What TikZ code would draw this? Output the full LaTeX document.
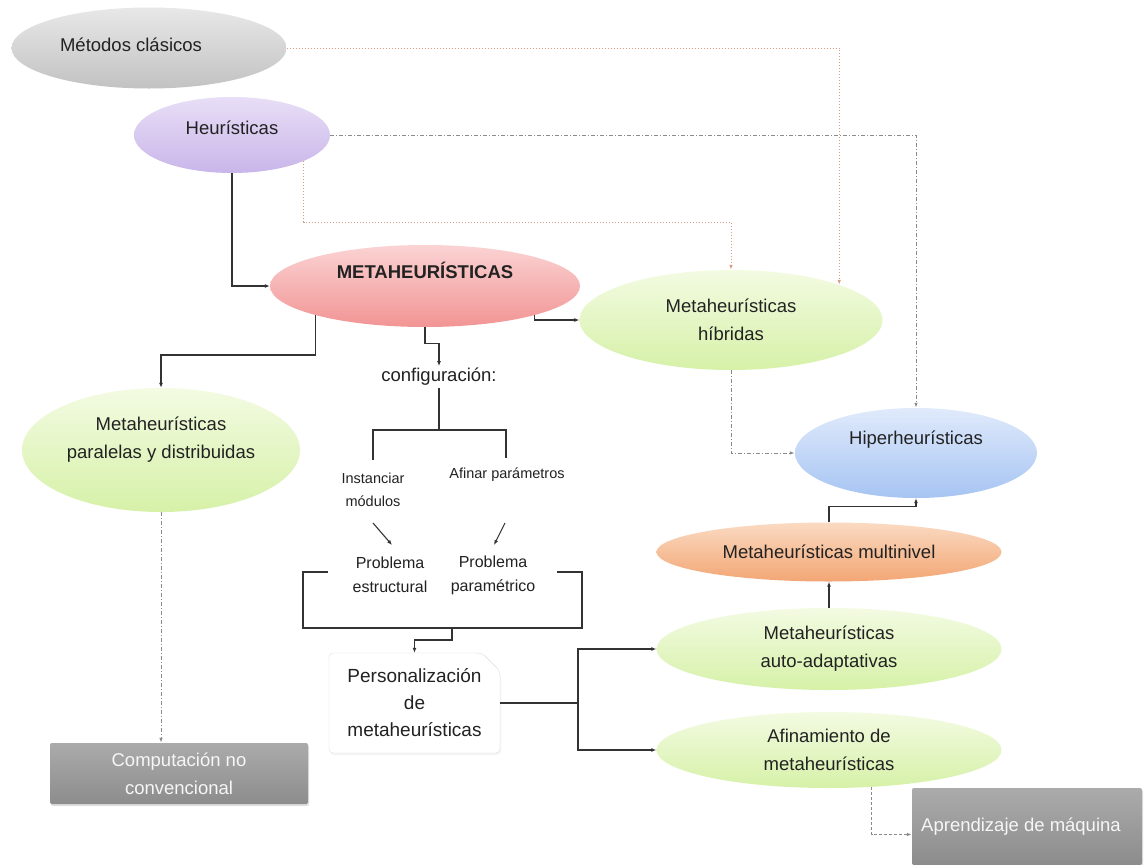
\documentclass[tikz,border=0pt]{standalone}
\usepackage{fontspec}
\setmainfont{Liberation Sans}
\usetikzlibrary{shapes.geometric,shapes.misc,arrows.meta,calc,shadows}
\definecolor{txt}{HTML}{222222}
\definecolor{lineC}{HTML}{333333}
\definecolor{orC}{HTML}{D89C84}
\definecolor{grC}{HTML}{8A8A8A}
\definecolor{metT}{HTML}{E8E8E8}
\definecolor{metB}{HTML}{C2C2C2}
\definecolor{heT}{HTML}{E8DEF6}
\definecolor{heB}{HTML}{C9B6EA}
\definecolor{meT}{HTML}{FBD3D3}
\definecolor{meB}{HTML}{F29494}
\definecolor{grT}{HTML}{F3FBE2}
\definecolor{grB}{HTML}{D6F1A8}
\definecolor{hiT}{HTML}{E0EAFB}
\definecolor{hiB}{HTML}{A6C4F3}
\definecolor{muT}{HTML}{FADAC2}
\definecolor{muB}{HTML}{F3A674}
\definecolor{bxT}{HTML}{ABABAB}
\definecolor{bxB}{HTML}{8C8C8C}
\newcommand{\fsmain}{\fontsize{18.5}{28}\selectfont}
\newcommand{\fssmall}{\fontsize{14.5}{23}\selectfont}
\newcommand{\fsprob}{\fontsize{16}{24}\selectfont}
\newcommand{\fspers}{\fontsize{19}{27}\selectfont}
\begin{document}
\begin{tikzpicture}[x=1pt,y=-1pt,
  ell/.style={ellipse, inner sep=0pt, font=\fsmain, text=txt, align=center, draw=none},
  greenell/.style={ell, top color=grT, bottom color=grB},
  lbl/.style={font=\fsmain, text=txt, align=center},
  gbox/.style={rectangle, rounded corners=2pt, top color=bxT, bottom color=bxB, text=white!93!gray,
    font=\fsmain, align=center, inner sep=0pt,
    drop shadow={opacity=0.25, shadow xshift=1pt, shadow yshift=-2pt}},
  persbox/.style={chamfered rectangle, chamfered rectangle corners=north east,
    chamfered rectangle xsep=9pt, chamfered rectangle ysep=9pt, rounded corners=4pt,
    draw=black!13, fill=white, font=\fspers, text=txt, align=center, inner sep=0pt},
  plain/.style={text=txt, inner sep=2pt, align=center},
  conn/.style={draw=lineC, line width=1.1pt},
  arr/.style={conn, -{Latex[length=5pt,width=4pt]}},
  dotO/.style={draw=orC, line width=1pt, dotted, -{Latex[length=5pt,width=3.5pt]}},
  dashdotA/.style={draw=grC, line width=1pt, dash pattern=on 4pt off 2pt on 1pt off 2pt, -{Latex[length=5pt,width=3.5pt]}},
  dashedA/.style={draw=grC, line width=1pt, dash pattern=on 3pt off 2pt, -{Latex[length=5pt,width=3.5pt]}}
]
\useasboundingbox (0,0) rectangle (1144,865);
\fill[white] (0,0) rectangle (1144,865);

% nodes
\node[ell, top color=metT, bottom color=metB, minimum width=275pt, minimum height=81pt,
  label={[lbl,xshift=-18pt,yshift=3pt]center:Métodos clásicos}] (metodos) at (149,48) {};
\node[ell, top color=heT, bottom color=heB, minimum width=196pt, minimum height=76pt,
  label={[lbl,yshift=7pt]center:Heurísticas}] (heur) at (232,135) {};
\node[ell, top color=meT, bottom color=meB, minimum width=310pt, minimum height=82pt,
  label={[lbl,yshift=16pt,font=\fsmain\bfseries]center:METAHEURÍSTICAS}] (meta) at (425,286) {};
\node[greenell, minimum width=303pt, minimum height=100pt] (hib) at (731,320) {Metaheurísticas\\híbridas};
\node[greenell, minimum width=278pt, minimum height=124pt,
  label={[lbl,yshift=10pt]center:Metaheurísticas\\paralelas y distribuidas}] (par) at (161,450) {};
\node[ell, top color=hiT, bottom color=hiB, minimum width=242pt, minimum height=90pt,
  label={[lbl,yshift=13pt]center:Hiperheurísticas}] (hip) at (916,453) {};
\node[ell, top color=muT, bottom color=muB, minimum width=345pt, minimum height=59pt] (mul) at (829,552) {Metaheurísticas multinivel};
\node[greenell, minimum width=345pt, minimum height=82pt] (auto) at (829,649) {Metaheurísticas\\auto-adaptativas};
\node[greenell, minimum width=345pt, minimum height=76pt] (afin) at (829,750) {Afinamiento de\\metaheurísticas};
\node[gbox, minimum width=258pt, minimum height=61pt] (comp) at (179,773.5) {Computación no\\convencional};
\node[gbox, minimum width=230pt, minimum height=77pt] (apr) at (1027,826.5) {\hspace*{-12pt}Aprendizaje de máquina};

\node[plain, font=\fsmain] (config) at (439,377) {configuración:};
\node[plain, font=\fssmall] (inst) at (373,489.5) {Instanciar\\módulos};
\node[plain, font=\fssmall] (afinp) at (507,475) {Afinar parámetros};
\node[plain, font=\fsprob] (pe) at (390,575) {Problema\\estructural};
\node[plain, font=\fsprob] (pp) at (493,575) {Problema\\paramétrico};
\node[persbox, minimum width=171pt, minimum height=100pt,
  drop shadow={opacity=0.08, shadow xshift=1pt, shadow yshift=-2pt}] (pers) at (414.5,703) {Personalización\\de\\metaheurísticas};

% helper coordinates
\coordinate (o1) at (500,222);
\coordinate (j1) at (200,355);
\coordinate (cj) at (439,430);
\coordinate (bl) at (373,460);
\coordinate (br) at (506,458);
\coordinate (ia) at (373,523);
\coordinate (ib) at (392,545);
\coordinate (pa) at (505,523);
\coordinate (pb) at (494,545);
\coordinate (bk) at (452,628);
\coordinate (bk0) at (427,628);
\coordinate (pj) at (578,703);

% connectors
\draw[dotO] (metodos.east) -| (hib.18);
\draw[dashdotA] (heur.east) -| (hip.north);
\draw[arr] (heur.south) |- (meta.west);
\draw[dotO] (heur.-20) |- (o1) -| (hib.north);
\draw[arr] (meta.195) |- (j1) -| (par.north);
\draw[arr] (meta.south) -- ++(0,16) -| (config.north);
\draw[arr] (meta.-15) |- (hib.west);
\draw[conn] (config.south) -- (cj);
\draw[conn] (bl) |- (cj) -| (br);
\draw[arr] (ia) -- (ib);
\draw[arr] (pa) -- (pb);
\draw[conn] (328,572) -- (303,572) -- (303,628) -- (582,628) -- (582,572) -- (557,572);
\draw[draw=lineC, line width=2.4pt] (bk0) -- (bk);
\draw[arr] (bk) -- ++(0,12) -| (pers.north);
\draw[conn] (pers.east) -- (pj);
\draw[arr] (pj) |- (auto.west);
\draw[arr] (pj) |- (afin.west);
\draw[arr] (auto.north) -- (mul.south);
\draw[arr] (mul.north) -- ++(0,-16) -| (hip.south);
\draw[dashdotA] (hib.south) |- (hip.west);
\draw[dashdotA] (par.south) -- (par.south |- comp.north);
\draw[dashedA] (afin.-41) |- ($(apr.west)+(0,8)$);
\end{tikzpicture}
\end{document}
